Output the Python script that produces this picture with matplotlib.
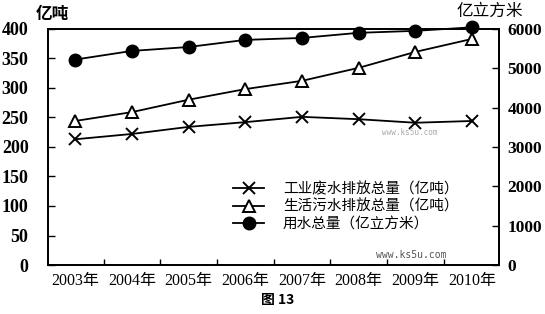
import matplotlib
matplotlib.use("Agg")
import matplotlib.pyplot as plt
from matplotlib.ticker import FixedLocator

years = ["2003年", "2004年", "2005年", "2006年", "2007年", "2008年", "2009年", "2010年"]
industrial = [213, 222, 234, 242, 251, 247, 241, 244]
domestic = [244, 259, 280, 298, 312, 334, 361, 383]
water_use = [5220, 5440, 5540, 5720, 5770, 5900, 5950, 6040]
left_ticks = [0, 50, 100, 150, 200, 250, 300, 350, 400]
right_ticks = [0, 1000, 2000, 3000, 4000, 5000, 6000]

serif = ["Liberation Serif", "Noto Sans CJK SC"]
cjk = ["Noto Sans CJK SC", "DejaVu Sans"]

fig = plt.figure(figsize=(5.45, 3.14), dpi=100)
ax = fig.add_axes([0.088, 0.156, 0.828, 0.752])
ax2 = ax.twinx()

x = list(range(len(years)))
l1, = ax.plot(x, industrial, color="black", lw=1.3, marker="x", ms=8, mew=1.4,
              label="工业废水排放总量（亿吨）")
l2, = ax.plot(x, domestic, color="black", lw=1.3, marker="^", ms=9, mew=1.4,
              mfc="white", label="生活污水排放总量（亿吨）")
l3, = ax2.plot(x, water_use, color="black", lw=1.3, marker="o", ms=9,
               label="用水总量（亿立方米）", clip_on=False)

ax.set_xlim(-0.48, 7.48)
ax.set_ylim(0, 400)
ax2.set_ylim(0, 6000)

ax.set_xticks(x)
ax.set_xticklabels(years, fontfamily=serif, fontsize=11.5)
ax.xaxis.set_minor_locator(FixedLocator([i + 0.5 for i in range(7)]))
ax.tick_params(axis="x", which="major", length=0, pad=6)
ax.tick_params(axis="x", which="minor", direction="in", length=4, width=1)

ax.set_yticks(left_ticks)
ax.set_yticklabels([str(v) for v in left_ticks], fontfamily=serif, fontsize=13, fontweight="bold")
ax.tick_params(axis="y", direction="in", length=5, width=1, pad=14)

ax2.set_yticks(right_ticks)
ax2.set_yticklabels([str(v) for v in right_ticks], fontfamily=serif, fontsize=12.5, fontweight="bold")
ax2.tick_params(axis="y", direction="in", length=5, width=1, pad=6)

for a in (ax, ax2):
    for s in a.spines.values():
        s.set_linewidth(1.3)
        s.set_color("black")

fig.text(0.065, 0.955, "亿吨", fontfamily=cjk, fontsize=12, fontweight="bold", ha="left", va="center")
fig.text(0.838, 0.965, "亿立方米", fontfamily=cjk, fontsize=12, ha="left", va="center")
fig.text(0.51, 0.045, "图 13", fontfamily=cjk, fontsize=10, fontweight="bold", ha="center", va="center")

fig.text(0.69, 0.187, "www.ks5u.com", fontfamily="DejaVu Sans Mono", fontsize=7, color="#555555", ha="left", va="center")
fig.text(0.70, 0.577, "www.ks5u.com", fontfamily="DejaVu Sans Mono", fontsize=5.5, color="#aaaaaa", ha="left", va="center")

leg = ax.legend(handles=[l1, l2, l3], loc="upper left", bbox_to_anchor=(0.415, 0.445),
                bbox_transform=fig.transFigure, frameon=False, prop={"family": cjk, "size": 10.5},
                handlelength=2.1, handletextpad=1.3, labelspacing=0.25, borderpad=0)

fig.savefig("out.png", dpi=100)
